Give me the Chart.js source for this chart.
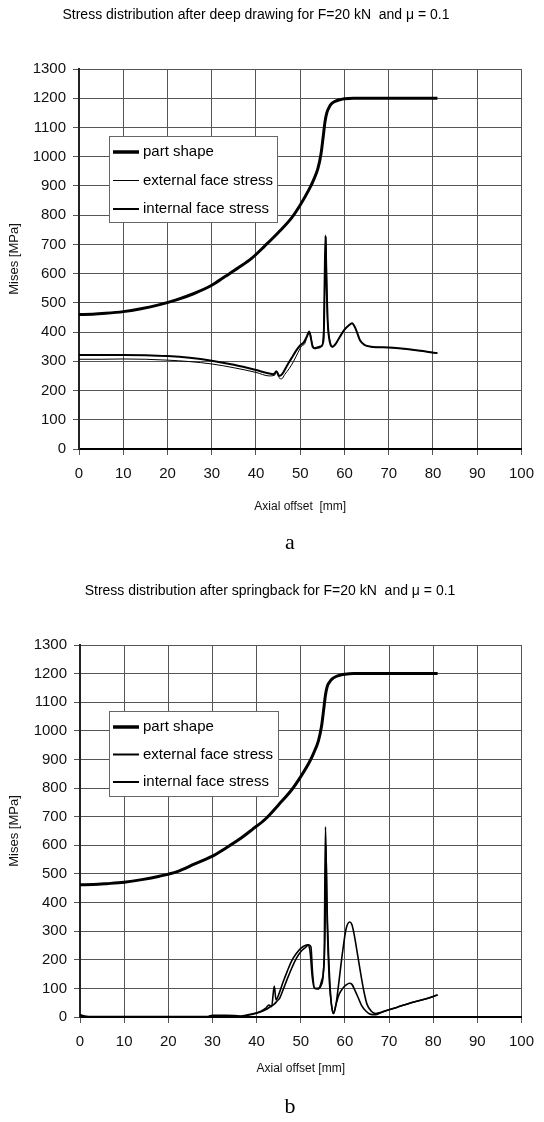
<!DOCTYPE html>
<html>
<head>
<meta charset="utf-8">
<script src="https://cdn.jsdelivr.net/npm/chart.js@4.4.1/dist/chart.umd.min.js"></script>
<style>
  html, body { margin: 0; padding: 0; background: #fff; }
  body { width: 544px; height: 1122px; position: relative; overflow: hidden; }
  .panel { position: absolute; left: 0; width: 544px; }
</style>
</head>
<body>
<div class="panel" style="top:0"><canvas id="drawingChart" width="544" height="560"></canvas></div>
<div class="panel" style="top:560px"><canvas id="springbackChart" width="544" height="562"></canvas></div>
<script>
// axis ticks
const axialTicks = [0, 10, 20, 30, 40, 50, 60, 70, 80, 90, 100];
const misesTicks = [0, 100, 200, 300, 400, 500, 600, 700, 800, 900, 1000, 1100, 1200, 1300];

// after deep drawing
const drawingShapeX = [0, 3, 6, 10, 14, 18, 22, 26, 30, 33, 36, 39, 42, 45, 48, 50, 52, 53, 54, 54.7, 55.2, 55.6, 56, 56.5, 57, 58, 59, 60, 62, 66, 70, 75, 81];
const drawingShapeY = [460, 461, 464, 470, 480, 493, 510, 532, 560, 590, 620, 652, 695, 740, 790, 835, 888, 920, 960, 1010, 1070, 1120, 1150, 1168, 1180, 1190, 1195, 1198, 1200, 1200, 1200, 1200, 1200];

const drawingExtX = [0, 5, 10, 15, 20, 25, 30, 35, 40, 43, 44.2, 44.6, 45.2, 45.8, 46.5, 47.5, 48.5, 49.5, 50.3, 51, 51.7, 52.2, 52.7, 53.3, 54, 54.8, 55.3, 55.6, 55.8, 56.1, 56.6, 57.2, 58, 59, 60, 61, 61.7, 62.5, 63.5, 64.5, 66, 70, 75, 81];
const drawingExtY = [307, 307, 308, 307, 304, 299, 291, 278, 262, 250, 252, 262, 244, 240, 255, 275, 300, 330, 352, 360, 390, 398, 360, 343, 345, 350, 420, 600, 725, 470, 380, 348, 358, 385, 408, 423, 430, 412, 372, 356, 350, 347, 340, 328];

const drawingIntX = [0, 5, 10, 15, 20, 25, 30, 35, 40, 43, 44, 44.6, 45.3, 46, 47, 48, 49, 50, 50.8, 51.5, 52, 52.4, 52.8, 53.3, 54, 54.8, 55.3, 55.5, 55.7, 55.9, 56.2, 56.7, 57.3, 58, 59, 60, 61, 61.7, 62.5, 63.5, 64.5, 66, 70, 75, 81];
const drawingIntY = [322, 322, 322, 321, 318, 312, 302, 288, 270, 258, 256, 266, 250, 258, 285, 310, 335, 355, 365, 385, 402, 380, 350, 345, 348, 352, 380, 560, 730, 600, 440, 365, 350, 360, 385, 408, 423, 430, 412, 372, 356, 350, 347, 340, 328];

// after springback
const springShapeX = [0, 3, 6, 10, 14, 18, 22, 26, 30, 33, 36, 39, 42, 45, 48, 50, 52, 53, 54, 54.7, 55.2, 55.6, 56, 56.5, 57, 58, 59, 60, 62, 66, 70, 75, 81];
const springShapeY = [462, 463, 466, 471, 480, 492, 508, 535, 562, 590, 620, 655, 692, 742, 795, 840, 892, 925, 965, 1015, 1075, 1125, 1155, 1170, 1180, 1190, 1195, 1198, 1200, 1200, 1200, 1200, 1200];

const springExtX = [0, 0.8, 2, 10, 20, 29, 30, 33, 35, 36.5, 38, 40, 41, 42, 42.8, 43.4, 44, 44.4, 45, 46, 47, 48, 49, 50, 51, 51.6, 52.1, 52.6, 53.1, 54, 54.8, 55.3, 55.6, 55.9, 56.3, 56.8, 57.4, 58, 58.7, 59.5, 60.3, 61.1, 61.6, 62.2, 62.9, 63.6, 64.3, 65, 66, 67, 68, 70, 72, 75, 78, 81];
const springExtY = [8, 4, 2, 2, 2, 2, 6, 6, 5, 3, 8, 15, 20, 30, 42, 36, 108, 60, 78, 122, 162, 198, 222, 240, 250, 252, 230, 140, 100, 98, 130, 205, 665, 420, 220, 70, 12, 45, 130, 230, 310, 332, 322, 280, 215, 150, 90, 45, 20, 12, 16, 25, 35, 50, 62, 77];

const springIntX = [0, 0.8, 2, 10, 20, 29, 30, 33, 35, 36.5, 38, 40, 41, 42, 43, 44, 44.6, 45.3, 46, 47, 48, 49, 50, 51, 51.8, 52.3, 52.7, 53.2, 54, 54.6, 55.1, 55.5, 55.7, 56, 56.5, 57, 57.4, 58, 58.7, 59.5, 60.3, 61, 61.6, 62.3, 63, 63.8, 64.8, 65.7, 67, 68, 70, 72, 75, 78, 81];
const springIntY = [5, 2, 1, 1, 1, 1, 4, 4, 3, 2, 6, 13, 18, 25, 35, 45, 55, 68, 95, 135, 172, 205, 228, 242, 252, 245, 150, 100, 100, 110, 150, 300, 600, 330, 120, 40, 12, 45, 80, 100, 112, 118, 114, 92, 68, 40, 20, 10, 8, 14, 25, 35, 50, 62, 77];

const sansFont = "'Liberation Sans', Arial, sans-serif";
Chart.defaults.font.family = sansFont;
Chart.defaults.color = '#111';

function toPoints(xs, ys) {
    return xs.map((x, i) => ({ x: x, y: ys[i] }));
}

// free-standing text: chart title and panel letter
const captionPlugin = {
    id: 'captions',
    afterDraw(chart, args, opts) {
        const ctx = chart.ctx;
        (opts.items || []).forEach(item => {
            ctx.save();
            ctx.font = item.font;
            ctx.fillStyle = '#000';
            ctx.textAlign = 'center';
            ctx.textBaseline = 'middle';
            ctx.fillText(item.text, item.x, item.y);
            ctx.restore();
        });
    }
};

// boxed legend sitting inside the plot
const insetLegendPlugin = {
    id: 'insetLegend',
    afterDraw(chart, args, opts) {
        const ctx = chart.ctx;
        ctx.save();
        ctx.fillStyle = '#fff';
        ctx.fillRect(opts.left, opts.top, opts.width, opts.height);
        ctx.strokeStyle = '#666';
        ctx.lineWidth = 1;
        ctx.strokeRect(opts.left + 0.5, opts.top + 0.5, opts.width, opts.height);
        ctx.font = '15px ' + sansFont;
        ctx.textBaseline = 'middle';
        ctx.textAlign = 'left';
        chart.data.datasets.forEach((ds, i) => {
            const y = opts.top + opts.firstRow + i * opts.rowGap;
            ctx.beginPath();
            ctx.strokeStyle = '#000';
            ctx.lineWidth = opts.sampleWidths[i];
            ctx.moveTo(opts.left + 4, y);
            ctx.lineTo(opts.left + 30, y);
            ctx.stroke();
            ctx.fillStyle = '#000';
            ctx.fillText(ds.label, opts.left + 34, y);
        });
        ctx.restore();
    }
};

function buildChart(canvasId, series, cfg) {
    const datasets = series.map(s => ({
        label: s.label,
        data: toPoints(s.xs, s.ys),
        borderColor: '#000',
        borderWidth: s.width,
        pointRadius: 0,
        fill: false,
        cubicInterpolationMode: 'monotone'
    }));

    return new Chart(document.getElementById(canvasId), {
        type: 'line',
        data: { datasets: datasets },
        plugins: [captionPlugin, insetLegendPlugin],
        options: {
            responsive: false,
            animation: false,
            layout: { padding: { top: cfg.plotTop, right: 21, left: 0, bottom: 0 } },
            scales: {
                x: {
                    type: 'linear',
                    min: 0,
                    max: 100,
                    afterBuildTicks: scale => { scale.ticks = axialTicks.map(v => ({ value: v })); },
                    afterFit: scale => { scale.height = cfg.xAxisHeight; },
                    grid: { color: '#555', lineWidth: 1, tickLength: 6 },
                    border: { color: '#000', width: 2 },
                    ticks: {
                        font: { size: 15 },
                        padding: 10,
                        maxRotation: 0,
                        autoSkip: false,
                        callback: v => String(v)
                    },
                    title: {
                        display: true,
                        text: cfg.xTitle,
                        font: { size: 12 },
                        padding: { top: 0, bottom: 45.8 }
                    }
                },
                y: {
                    type: 'linear',
                    min: 0,
                    max: 1300,
                    afterBuildTicks: scale => { scale.ticks = misesTicks.map(v => ({ value: v })); },
                    afterFit: scale => { scale.width = cfg.yAxisWidth; },
                    grid: { color: '#555', lineWidth: 1, tickLength: 6 },
                    border: { color: '#222', width: 2 },
                    ticks: { font: { size: 15 }, padding: 7, callback: v => String(v) },
                    title: {
                        display: true,
                        text: 'Mises [MPa]',
                        font: { size: 13 },
                        padding: { top: 7, bottom: 0 }
                    }
                }
            },
            plugins: {
                legend: { display: false },
                tooltip: { enabled: false },
                captions: { items: cfg.captions },
                insetLegend: cfg.legend
            }
        }
    });
}

buildChart('drawingChart', [
    { label: 'part shape', xs: drawingShapeX, ys: drawingShapeY, width: 3 },
    { label: 'external face stress', xs: drawingExtX, ys: drawingExtY, width: 1 },
    { label: 'internal face stress', xs: drawingIntX, ys: drawingIntY, width: 2 }
], {
    plotTop: 69,
    yAxisWidth: 79,
    xAxisHeight: 111,
    xTitle: 'Axial offset  [mm]',
    captions: [
        { text: 'Stress distribution after deep drawing for F=20 kN  and \u03bc = 0.1', x: 256, y: 15, font: '14px ' + sansFont },
        { text: 'a', x: 290, y: 543, font: '22px "Liberation Serif", "Times New Roman", serif' }
    ],
    legend: { left: 109, top: 136, width: 168, height: 86, firstRow: 16, rowGap: 28.5, sampleWidths: [3.5, 1, 2] }
});

buildChart('springbackChart', [
    { label: 'part shape', xs: springShapeX, ys: springShapeY, width: 3 },
    { label: 'external face stress', xs: springExtX, ys: springExtY, width: 1.6 },
    { label: 'internal face stress', xs: springIntX, ys: springIntY, width: 1.6 }
], {
    plotTop: 85,
    yAxisWidth: 80,
    xAxisHeight: 105,
    xTitle: 'Axial offset [mm]',
    captions: [
        { text: 'Stress distribution after springback for F=20 kN  and \u03bc = 0.1', x: 270, y: 31, font: '14px ' + sansFont },
        { text: 'b', x: 290, y: 547, font: '22px "Liberation Serif", "Times New Roman", serif' }
    ],
    legend: { left: 109, top: 151, width: 169, height: 85, firstRow: 16, rowGap: 27.5, sampleWidths: [3.5, 2, 2] }
});
</script>
</body>
</html>
